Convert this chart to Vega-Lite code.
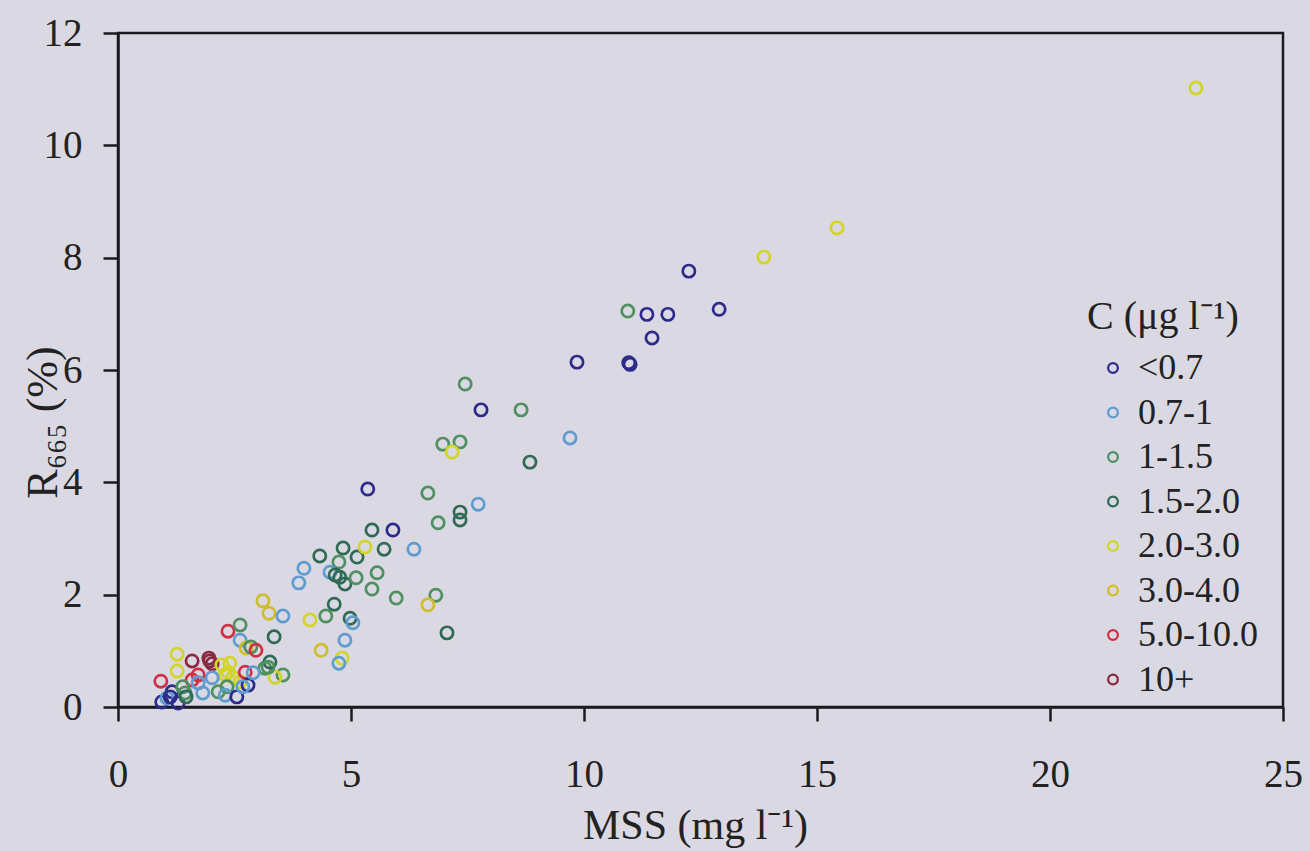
{
  "$schema": "https://vega.github.io/schema/vega-lite/v6.json",
  "autosize": {"type": "none"},
  "width": 1165,
  "height": 674,
  "padding": {"left": 118, "top": 33, "right": 27, "bottom": 144},
  "background": "#dad9e3",
  "config": {
    "font": "Liberation Serif",
    "style": {"guide-label": {"font": "Liberation Serif"}, "guide-title": {"font": "Liberation Serif"}},
    "view": {"stroke": "#1a1a22", "strokeWidth": 2.5, "fill": "#dad9e3"},
    "axis": {"grid": false, "domainColor": "#1a1a22", "domainWidth": 2.5, "tickColor": "#1a1a22", "tickWidth": 2.5, "labelFont": "Liberation Serif", "labelColor": "#222222", "labelFontSize": 39, "labelFlush": false, "titleFont": "Liberation Serif", "titleFontWeight": "normal", "titleColor": "#222222", "titleFontSize": 42}
  },
  "data": {"values": [
    {"mss": 23.13, "r": 11.02, "c": "2.0-3.0"},
    {"mss": 15.43, "r": 8.53, "c": "2.0-3.0"},
    {"mss": 13.86, "r": 8.01, "c": "2.0-3.0"},
    {"mss": 12.25, "r": 7.76, "c": "<0.7"},
    {"mss": 12.90, "r": 7.08, "c": "<0.7"},
    {"mss": 11.35, "r": 6.99, "c": "<0.7"},
    {"mss": 11.80, "r": 6.99, "c": "<0.7"},
    {"mss": 10.94, "r": 7.05, "c": "1-1.5"},
    {"mss": 11.46, "r": 6.57, "c": "<0.7"},
    {"mss": 9.85, "r": 6.14, "c": "<0.7"},
    {"mss": 10.99, "r": 6.10, "c": "<0.7"},
    {"mss": 10.96, "r": 6.13, "c": "<0.7"},
    {"mss": 7.79, "r": 5.29, "c": "<0.7"},
    {"mss": 8.65, "r": 5.29, "c": "1-1.5"},
    {"mss": 9.70, "r": 4.79, "c": "0.7-1"},
    {"mss": 8.84, "r": 4.36, "c": "1.5-2.0"},
    {"mss": 7.45, "r": 5.75, "c": "1-1.5"},
    {"mss": 6.97, "r": 4.68, "c": "1-1.5"},
    {"mss": 7.34, "r": 4.72, "c": "1-1.5"},
    {"mss": 7.17, "r": 4.54, "c": "2.0-3.0"},
    {"mss": 5.36, "r": 3.88, "c": "<0.7"},
    {"mss": 6.65, "r": 3.81, "c": "1-1.5"},
    {"mss": 7.73, "r": 3.61, "c": "0.7-1"},
    {"mss": 6.87, "r": 3.28, "c": "1-1.5"},
    {"mss": 7.34, "r": 3.47, "c": "1.5-2.0"},
    {"mss": 7.34, "r": 3.33, "c": "1.5-2.0"},
    {"mss": 5.45, "r": 3.15, "c": "1.5-2.0"},
    {"mss": 5.90, "r": 3.15, "c": "<0.7"},
    {"mss": 4.83, "r": 2.83, "c": "1.5-2.0"},
    {"mss": 5.13, "r": 2.67, "c": "1.5-2.0"},
    {"mss": 5.30, "r": 2.85, "c": "2.0-3.0"},
    {"mss": 5.71, "r": 2.81, "c": "1.5-2.0"},
    {"mss": 6.35, "r": 2.81, "c": "0.7-1"},
    {"mss": 4.33, "r": 2.69, "c": "1.5-2.0"},
    {"mss": 4.74, "r": 2.58, "c": "1-1.5"},
    {"mss": 3.99, "r": 2.47, "c": "0.7-1"},
    {"mss": 3.88, "r": 2.21, "c": "0.7-1"},
    {"mss": 4.55, "r": 2.40, "c": "0.7-1"},
    {"mss": 4.66, "r": 2.35, "c": "1.5-2.0"},
    {"mss": 4.76, "r": 2.31, "c": "1.5-2.0"},
    {"mss": 4.87, "r": 2.19, "c": "1.5-2.0"},
    {"mss": 5.11, "r": 2.30, "c": "1-1.5"},
    {"mss": 5.56, "r": 2.39, "c": "1-1.5"},
    {"mss": 5.45, "r": 2.10, "c": "1-1.5"},
    {"mss": 5.97, "r": 1.94, "c": "1-1.5"},
    {"mss": 6.82, "r": 1.99, "c": "1-1.5"},
    {"mss": 6.65, "r": 1.82, "c": "3.0-4.0"},
    {"mss": 3.11, "r": 1.89, "c": "3.0-4.0"},
    {"mss": 3.24, "r": 1.67, "c": "3.0-4.0"},
    {"mss": 3.54, "r": 1.62, "c": "0.7-1"},
    {"mss": 4.64, "r": 1.83, "c": "1.5-2.0"},
    {"mss": 4.46, "r": 1.62, "c": "1-1.5"},
    {"mss": 4.12, "r": 1.55, "c": "2.0-3.0"},
    {"mss": 4.98, "r": 1.58, "c": "1.5-2.0"},
    {"mss": 5.04, "r": 1.50, "c": "0.7-1"},
    {"mss": 7.06, "r": 1.32, "c": "1.5-2.0"},
    {"mss": 3.35, "r": 1.25, "c": "1.5-2.0"},
    {"mss": 4.87, "r": 1.19, "c": "0.7-1"},
    {"mss": 4.36, "r": 1.01, "c": "3.0-4.0"},
    {"mss": 4.81, "r": 0.87, "c": "2.0-3.0"},
    {"mss": 4.74, "r": 0.78, "c": "0.7-1"},
    {"mss": 2.36, "r": 1.35, "c": "5.0-10.0"},
    {"mss": 2.62, "r": 1.46, "c": "1-1.5"},
    {"mss": 2.62, "r": 1.19, "c": "0.7-1"},
    {"mss": 2.75, "r": 1.05, "c": "3.0-4.0"},
    {"mss": 2.85, "r": 1.07, "c": "1-1.5"},
    {"mss": 2.96, "r": 1.01, "c": "5.0-10.0"},
    {"mss": 1.27, "r": 0.94, "c": "2.0-3.0"},
    {"mss": 1.59, "r": 0.82, "c": "10+"},
    {"mss": 1.95, "r": 0.87, "c": "10+"},
    {"mss": 2.02, "r": 0.77, "c": "10+"},
    {"mss": 1.97, "r": 0.82, "c": "10+"},
    {"mss": 1.27, "r": 0.64, "c": "2.0-3.0"},
    {"mss": 0.92, "r": 0.46, "c": "5.0-10.0"},
    {"mss": 1.59, "r": 0.48, "c": "5.0-10.0"},
    {"mss": 1.72, "r": 0.57, "c": "5.0-10.0"},
    {"mss": 2.23, "r": 0.75, "c": "2.0-3.0"},
    {"mss": 2.40, "r": 0.78, "c": "2.0-3.0"},
    {"mss": 2.30, "r": 0.57, "c": "2.0-3.0"},
    {"mss": 2.47, "r": 0.53, "c": "2.0-3.0"},
    {"mss": 2.62, "r": 0.45, "c": "2.0-3.0"},
    {"mss": 2.36, "r": 0.62, "c": "2.0-3.0"},
    {"mss": 2.73, "r": 0.62, "c": "5.0-10.0"},
    {"mss": 3.15, "r": 0.69, "c": "1-1.5"},
    {"mss": 3.26, "r": 0.80, "c": "1.5-2.0"},
    {"mss": 3.54, "r": 0.57, "c": "1-1.5"},
    {"mss": 3.37, "r": 0.53, "c": "2.0-3.0"},
    {"mss": 3.22, "r": 0.71, "c": "1-1.5"},
    {"mss": 0.94, "r": 0.09, "c": "<0.7"},
    {"mss": 1.16, "r": 0.27, "c": "<0.7"},
    {"mss": 1.05, "r": 0.16, "c": "0.7-1"},
    {"mss": 1.29, "r": 0.07, "c": "<0.7"},
    {"mss": 1.44, "r": 0.25, "c": "1-1.5"},
    {"mss": 1.39, "r": 0.36, "c": "1-1.5"},
    {"mss": 1.72, "r": 0.43, "c": "0.7-1"},
    {"mss": 1.82, "r": 0.25, "c": "0.7-1"},
    {"mss": 2.02, "r": 0.52, "c": "0.7-1"},
    {"mss": 2.15, "r": 0.27, "c": "1-1.5"},
    {"mss": 2.34, "r": 0.36, "c": "1-1.5"},
    {"mss": 2.30, "r": 0.21, "c": "0.7-1"},
    {"mss": 2.55, "r": 0.18, "c": "<0.7"},
    {"mss": 2.79, "r": 0.39, "c": "<0.7"},
    {"mss": 2.68, "r": 0.36, "c": "0.7-1"},
    {"mss": 2.90, "r": 0.61, "c": "0.7-1"},
    {"mss": 1.46, "r": 0.18, "c": "1.5-2.0"},
    {"mss": 1.12, "r": 0.18, "c": "<0.7"}
  ]},
  "mark": {"type": "point", "shape": "circle", "filled": false, "size": 150, "strokeWidth": 2.7, "opacity": 1},
  "encoding": {
    "x": {"field": "mss", "type": "quantitative", "scale": {"domain": [0, 25], "nice": false, "zero": false},
      "axis": {"title": "MSS (mg l⁻¹)", "values": [0, 5, 10, 15, 20, 25], "format": "d", "labelFont": "Liberation Serif", "labelFontSize": 39, "labelFlush": false, "labelOverlap": false, "tickSize": 14, "labelPadding": 34, "titleFont": "Liberation Serif", "titleX": 577, "titleY": 131, "titleBaseline": "alphabetic", "titleAlign": "center"}},
    "y": {"field": "r", "type": "quantitative", "scale": {"domain": [0, 12], "nice": false, "zero": false},
      "axis": {"title": "R₆₆₅ (%)", "values": [0, 2, 4, 6, 8, 10, 12], "format": "d", "labelFont": "Liberation Serif", "labelFontSize": 39, "labelFlush": false, "labelOverlap": false, "tickSize": 15, "labelPadding": 21, "titleFont": "Liberation Serif", "titleFontSize": 44, "titleX": -62, "titleY": 389, "titleBaseline": "alphabetic", "titleAlign": "center", "titleAngle": -90}},
    "color": {"field": "c", "type": "nominal",
      "scale": {"domain": ["<0.7", "0.7-1", "1-1.5", "1.5-2.0", "2.0-3.0", "3.0-4.0", "5.0-10.0", "10+"],
                "range": ["#2d2b8a", "#5e9cd0", "#4f9060", "#2f6a55", "#d2d428", "#cfbd2e", "#d22e44", "#8a2a40"]},
      "legend": {"orient": "none", "legendX": 969, "legendY": 264, "title": "C (μg l⁻¹)", "titleFont": "Liberation Serif", "titleFontSize": 40, "titleFontWeight": "normal", "titleColor": "#222222", "titlePadding": 13, "labelFont": "Liberation Serif", "labelFontSize": 36, "labelColor": "#222222", "symbolSize": 95, "symbolStrokeWidth": 2.2, "symbolType": "circle", "symbolOffset": 8, "labelOffset": 7, "rowPadding": 8.5}}
  }
}
